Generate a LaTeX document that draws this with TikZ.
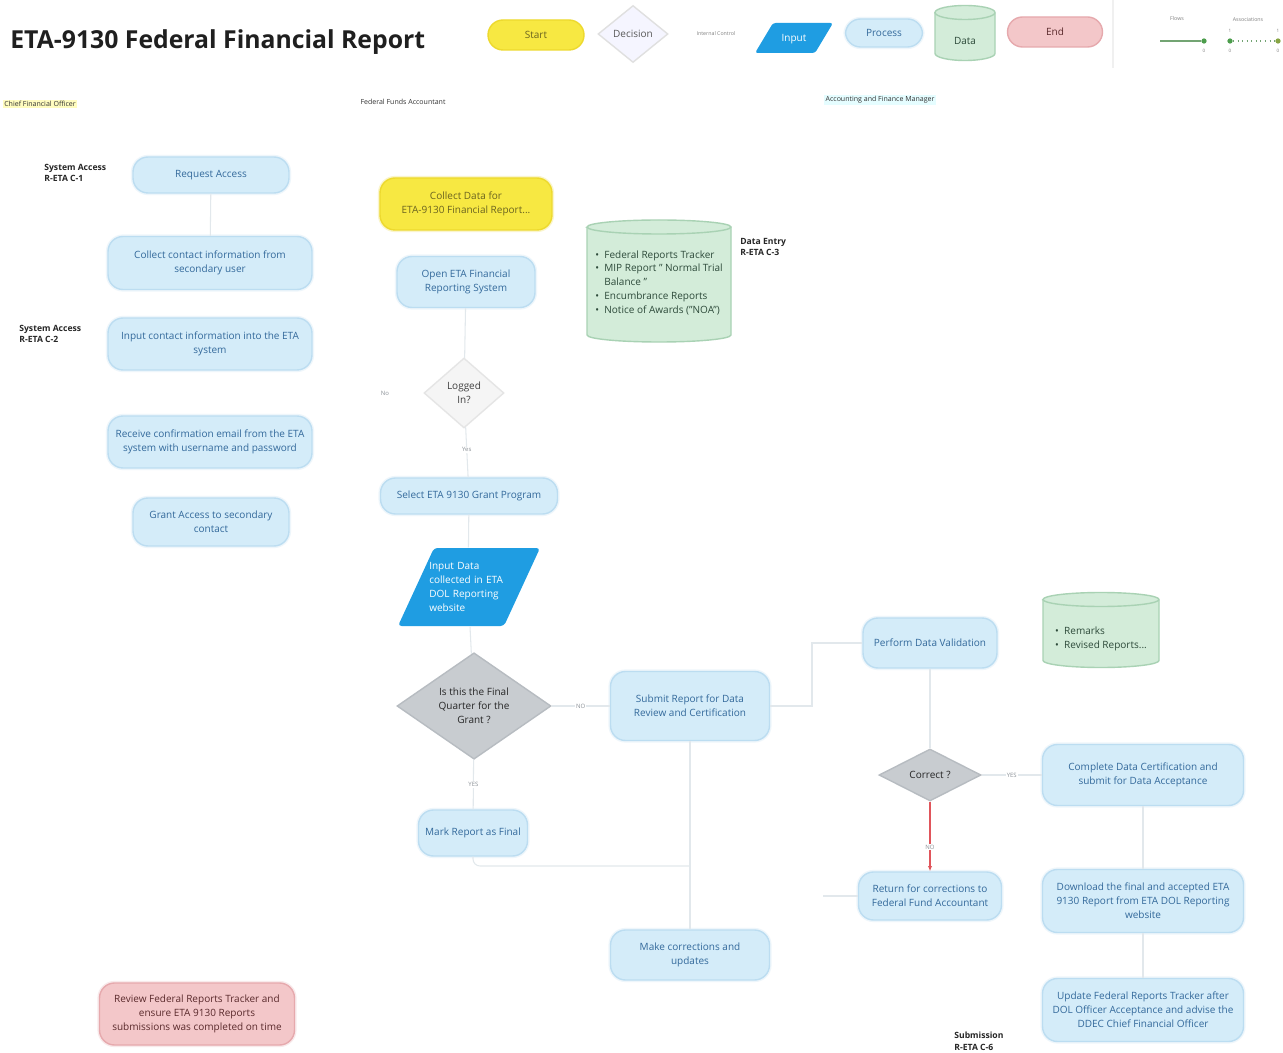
\documentclass[tikz,border=0pt]{standalone}
\usepackage{fontspec}
\setmainfont{Open Sans}
\usetikzlibrary{shapes.geometric,arrows.meta}

\definecolor{procfill}{HTML}{D4ECF9}
\definecolor{procline}{HTML}{BCDDF1}
\definecolor{proctext}{HTML}{33699B}
\definecolor{startfill}{HTML}{F7E842}
\definecolor{startline}{HTML}{EDD92E}
\definecolor{starttext}{HTML}{6B6420}
\definecolor{inputfill}{HTML}{1F9DE2}
\definecolor{datafill}{HTML}{D3ECD9}
\definecolor{dataline}{HTML}{A9D2B4}
\definecolor{datatext}{HTML}{2D4A3A}
\definecolor{endfill}{HTML}{F3C7C9}
\definecolor{endline}{HTML}{E6A9AD}
\definecolor{endtext}{HTML}{5A2A2C}
\definecolor{decfill}{HTML}{C8CCD0}
\definecolor{decline}{HTML}{B7BCC1}
\definecolor{flowcol}{HTML}{E2E8EC}
\definecolor{redflow}{HTML}{E0555B}
\definecolor{labcol}{HTML}{8A9096}

\newcommand\nodefont{\fontsize{5.7}{7.9}\selectfont}

% cylinder drawn from centre (x, y downward), width, height, style
\newcommand\cylshape[5]{%
  \pgfmathsetmacro\cylL{#1-#3/2}%
  \pgfmathsetmacro\cylR{#1+#3/2}%
  \pgfmathsetmacro\cylT{-(#2)+#4/2-7}%
  \pgfmathsetmacro\cylB{-(#2)-#4/2+7}%
  \pgfmathsetmacro\cylA{#3/2*0.02}%
  \filldraw[#5] (\cylL,\cylT) -- (\cylL,\cylB)
     arc[start angle=180,end angle=360,x radius=\cylA cm,y radius=0.14cm]
     -- (\cylR,\cylT)
     arc[start angle=0,end angle=180,x radius=\cylA cm,y radius=0.14cm] -- cycle;
  \draw[#5,fill=none] (\cylL,\cylT)
     arc[start angle=180,end angle=360,x radius=\cylA cm,y radius=0.14cm];
}

\tikzset{
  base/.style={align=center, inner sep=0pt, font=\nodefont, line width=0.8pt},
  proc/.style={base, rounded corners=0.3cm, fill=procfill, draw=procline, text=proctext,
    preaction={draw=procline!70, line width=2.4pt, opacity=0.35}},
  startbox/.style={base, rounded corners=0.3cm, fill=startfill, draw=startline, text=starttext},
  endbox/.style={base, rounded corners=0.3cm, fill=endfill, draw=endline, text=endtext},
  dec/.style={base, diamond, fill=decfill, draw=decline, text=black!85},
  lightdec/.style={base, diamond, fill=black!4, draw=black!10, text=black!75},
  datashape/.style={fill=datafill, draw=dataline, line width=0.8pt},
  datatxt/.style={base, align=left, text=datatext},
  flow/.style={draw=flowcol, line width=0.6pt},
  lbl/.style={font=\fontsize{3.4}{4}\selectfont, text=labcol, fill=white, inner sep=0.5pt},
  ref/.style={align=left, anchor=west, inner sep=0pt, font=\fontsize{4.9}{6.6}\selectfont\bfseries, text=black!85},
  lane/.style={inner sep=1pt, font=\fontsize{4}{4.5}\selectfont, text=black!80},
  tiny/.style={inner sep=1pt, text=black!50, font=\fontsize{3}{4}\selectfont},
}

\begin{document}
\begin{tikzpicture}[x=0.02cm, y=0.02cm]
\useasboundingbox (0,0) rectangle (1283,-1053);
\fill[white] (0,0) rectangle (1283,-1053);

% ---------- title ----------
\node[anchor=west, inner sep=0pt, font=\fontsize{14.1}{16}\selectfont\bfseries, text=black!88] (title) at (10,-42) {ETA-9130 Federal Financial Report};

% ---------- legend ----------
\node[startbox, minimum width=1.92cm, minimum height=0.6cm] (lgstart) at (536,-35) {Start};
\node[base, diamond, fill=black!3!blue!4, draw=black!12, text=black!65, minimum width=1.4cm, minimum height=1.14cm] (lgdec) at (633,-34) {Decision};
\node[tiny] (lgctrl) at (716,-34) {Internal Control};
\fill[inputfill, rounded corners=1.5pt] (773,-23) -- (833,-23) -- (815,-53) -- (755,-53) -- cycle;
\node[base, text=white] (lginput) at (794,-39) {Input};
\node[proc, minimum width=1.54cm, minimum height=0.56cm] (lgproc) at (884,-33) {Process};
\cylshape{965}{33}{60}{55}{datashape}
\node[base, text=datatext] (lgdata) at (965,-41) {Data};
\node[endbox, minimum width=1.9cm, minimum height=0.6cm] (lgend) at (1055,-32) {End};
\draw[black!6, line width=0.6pt] (1113,0) -- (1113,-68);
\node[tiny] (lgflows) at (1177,-19) {Flows};
\node[tiny] (lgassoc) at (1248,-20) {Associations};
\coordinate (fa) at (1160,-41);
\node[circle, fill=green!45!black!70, inner sep=0pt, minimum size=3pt] (fb) at (1204,-41) {};
\draw[green!35!black!55, line width=0.6pt] (fa) -- (fb);
\node[circle, fill=green!45!black!70, inner sep=0pt, minimum size=3pt] (aa) at (1230,-41) {};
\node[circle, fill=yellow!60!green!70!black, inner sep=0pt, minimum size=3pt] (ab) at (1278,-41) {};
\draw[green!35!black!55, line width=0.6pt, dotted] (aa) -- (ab);
\node[tiny, font=\fontsize{2.6}{3}\selectfont] (n0a) at (1204,-51) {0};
\node[tiny, font=\fontsize{2.6}{3}\selectfont] (n1a) at (1230,-31) {1};
\node[tiny, font=\fontsize{2.6}{3}\selectfont] (n0b) at (1230,-51) {0};
\node[tiny, font=\fontsize{2.6}{3}\selectfont] (n1b) at (1278,-31) {1};
\node[tiny, font=\fontsize{2.6}{3}\selectfont] (n0c) at (1278,-51) {0};

% ---------- lane headings ----------
\node[lane, fill=yellow!25] (lanecfo) at (40,-104) {Chief Financial Officer};
\node[lane] (laneffa) at (403,-102) {Federal Funds Accountant};
\node[lane, fill=blue!8!cyan!10] (laneafm) at (880,-100) {Accounting and Finance Manager};

% ---------- control references ----------
\node[ref] (ref1) at (44,-173) {System Access\\R-ETA C-1};
\node[ref] (ref2) at (19,-334) {System Access\\R-ETA C-2};
\node[ref] (ref3) at (740,-247) {Data Entry\\R-ETA C-3};
\node[ref] (ref6) at (954,-1041) {Submission\\R-ETA C-6};

% ---------- Chief Financial Officer ----------
\node[proc, minimum width=3.12cm, minimum height=0.72cm] (req) at (211,-175) {Request Access};
\node[proc, minimum width=4.08cm, minimum height=1.06cm] (collectc) at (210,-263) {Collect contact information from\\secondary user};
\node[proc, minimum width=4.08cm, minimum height=1.04cm] (inputc) at (210,-344) {Input contact information into the ETA\\system};
\node[proc, minimum width=4.08cm, minimum height=1.04cm] (receive) at (210,-442) {Receive confirmation email from the ETA\\system with username and password};
\node[proc, minimum width=3.12cm, minimum height=0.96cm] (grant) at (211,-522) {Grant Access to secondary\\contact};
\node[endbox, minimum width=3.9cm, minimum height=1.24cm,
  preaction={draw=endline!70, line width=2.4pt, opacity=0.35}] (review) at (197,-1014)
  {Review Federal Reports Tracker and\\ensure ETA 9130 Reports\\submissions was completed on time};

% ---------- Federal Funds Accountant ----------
\node[startbox, minimum width=3.44cm, minimum height=1.04cm,
  preaction={draw=startline!70, line width=2.4pt, opacity=0.35}] (collectd) at (466,-204)
  {Collect Data for\\ETA-9130 Financial Report...};
\node[proc, minimum width=2.76cm, minimum height=1.02cm] (openeta) at (466,-282) {Open ETA Financial\\Reporting System};

\cylshape{659}{281}{144}{122}{datashape}
\node[datatxt] (sources) at (659,-283) {%
  \begin{tabular}{@{}l@{\hspace{3pt}}l@{}}
  •&Federal Reports Tracker\\
  •&MIP Report " Normal Trial\\
   &Balance "\\
  •&Encumbrance Reports\\
  •&Notice of Awards ("NOA")
  \end{tabular}};

\node[lightdec, minimum width=1.6cm, minimum height=1.4cm] (logged) at (464,-393) {Logged\\In?};
\node[lbl] (lblno1) at (385,-393) {No};
\node[proc, minimum width=3.54cm, minimum height=0.72cm] (select) at (469,-496) {Select ETA 9130 Grant Program};

\fill[inputfill, rounded corners=2pt] (434,-548) -- (540,-548) -- (504,-626) -- (398,-626) -- cycle;
\node[base, text=white, text width=1.55cm, align=left, minimum height=1.56cm] (inputdata) at (468,-587)
  {Input Data\\collected in ETA\\DOL Reporting\\website};

\node[dec, minimum width=3.08cm, minimum height=1.84cm] (final) at (474,-706) {Is this the Final\\Quarter for the\\Grant ?};
\node[proc, minimum width=2.18cm, minimum height=0.92cm] (mark) at (473,-833) {Mark Report as Final};
\node[proc, minimum width=3.18cm, minimum height=1.38cm] (submit) at (690,-706) {Submit Report for Data\\Review and Certification};
\node[proc, minimum width=3.18cm, minimum height=1.0cm] (corr) at (690,-955) {Make corrections and\\updates};

% ---------- Accounting and Finance Manager ----------
\node[proc, minimum width=2.68cm, minimum height=1.0cm] (valid) at (930,-643) {Perform Data Validation};
\cylshape{1101}{630}{116}{75}{datashape}
\node[datatxt] (remarks) at (1101,-639) {%
  \begin{tabular}{@{}l@{\hspace{3pt}}l@{}}
  •&Remarks\\
  •&Revised Reports...
  \end{tabular}};
\node[dec, minimum width=2.04cm, minimum height=1.04cm] (correct) at (930,-775) {Correct ?};
\node[proc, minimum width=4.02cm, minimum height=1.22cm] (complete) at (1143,-775) {Complete Data Certification and\\submit for Data Acceptance};
\node[proc, minimum width=2.86cm, minimum height=0.96cm] (ret) at (930,-896) {Return for corrections to\\Federal Fund Accountant};
\node[proc, minimum width=4.02cm, minimum height=1.26cm] (download) at (1143,-901) {Download the final and accepted ETA\\9130 Report from ETA DOL Reporting\\website};
\node[proc, minimum width=4.02cm, minimum height=1.26cm] (update) at (1143,-1010) {Update Federal Reports Tracker after\\DOL Officer Acceptance and advise the\\DDEC Chief Financial Officer};

% ---------- connectors ----------
\draw[flow] (req) -- (collectc);
\draw[flow] (openeta) -- (logged);
\draw[flow] (logged) -- node[lbl, pos=0.45] {Yes} (select);
\draw[flow] (select) -- (inputdata);
\draw[flow] (inputdata) -- (final);
\draw[flow] (final) -- node[lbl] {NO} (submit);
\draw[flow] (final) -- node[lbl, pos=0.5] {YES} (mark);
\coordinate (join) at (690,-866);
\draw[flow, rounded corners=4pt] (mark.south) |- (join);
\draw[flow] (corr) -- (submit);
\coordinate (bendv) at (812,-706);
\draw[flow] (submit.east) -- (bendv) |- (valid.west);
\draw[flow] (valid) -- (correct);
\draw[flow] (correct) -- node[lbl] {YES} (complete);
\draw[redflow, line width=0.8pt, -{Latex[length=3pt,width=2.5pt]}] (correct) -- node[lbl, pos=0.65] {NO} (ret);
\draw[flow] (complete) -- (download);
\draw[flow] (download) -- (update);
\coordinate (retstub) at (823,-896);
\draw[flow] (ret.west) -- (retstub);
\end{tikzpicture}
\end{document}
